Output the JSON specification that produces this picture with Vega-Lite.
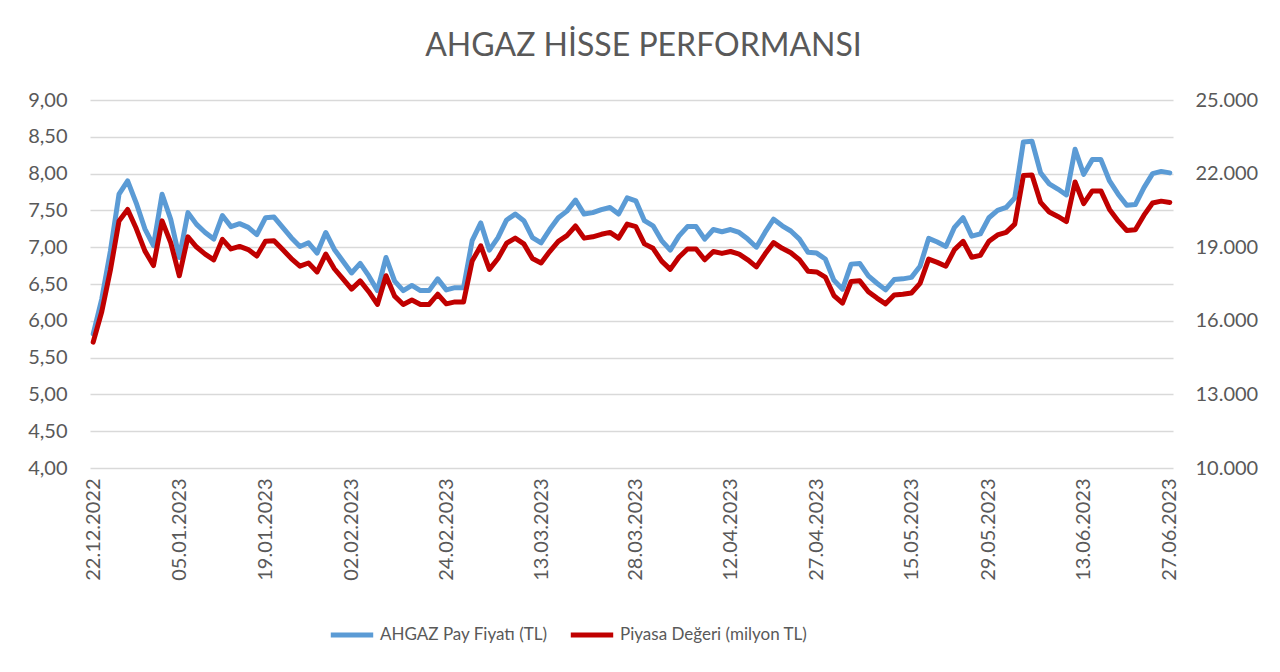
{
"$schema": "https://vega.github.io/schema/vega-lite/v6.json",
"width": 1083,
"height": 368,
"autosize": {"type": "none"},
"padding": {"left": 90, "top": 100, "right": 107, "bottom": 204},
"background": "white",
"title": {"text": "AHGAZ HİSSE PERFORMANSI", "font": "Lato", "fontSize": 32, "fontWeight": "normal", "color": "#595959", "anchor": "middle", "baseline": "alphabetic", "offset": 2, "dx": 12},
"config": {
  "view": {"stroke": null},
  "axis": {"labelFont": "Lato", "labelFontSize": 20, "labelColor": "#595959", "domain": false, "ticks": false, "title": null, "gridColor": "#d9d9d9", "gridWidth": 1.3}
},
"data": {"values": [
{"tarih":"22.12.2022","fiyat":5.82,"deger":15132},
{"tarih":"23.12.2022","fiyat":6.30,"deger":16380},
{"tarih":"26.12.2022","fiyat":6.95,"deger":18070},
{"tarih":"27.12.2022","fiyat":7.72,"deger":20072},
{"tarih":"28.12.2022","fiyat":7.90,"deger":20540},
{"tarih":"29.12.2022","fiyat":7.60,"deger":19760},
{"tarih":"30.12.2022","fiyat":7.25,"deger":18850},
{"tarih":"02.01.2023","fiyat":7.02,"deger":18252},
{"tarih":"03.01.2023","fiyat":7.72,"deger":20072},
{"tarih":"04.01.2023","fiyat":7.38,"deger":19188},
{"tarih":"05.01.2023","fiyat":6.86,"deger":17836},
{"tarih":"06.01.2023","fiyat":7.47,"deger":19422},
{"tarih":"09.01.2023","fiyat":7.31,"deger":19006},
{"tarih":"10.01.2023","fiyat":7.20,"deger":18720},
{"tarih":"11.01.2023","fiyat":7.11,"deger":18486},
{"tarih":"12.01.2023","fiyat":7.43,"deger":19318},
{"tarih":"13.01.2023","fiyat":7.28,"deger":18928},
{"tarih":"16.01.2023","fiyat":7.32,"deger":19032},
{"tarih":"17.01.2023","fiyat":7.27,"deger":18902},
{"tarih":"18.01.2023","fiyat":7.17,"deger":18642},
{"tarih":"19.01.2023","fiyat":7.40,"deger":19240},
{"tarih":"20.01.2023","fiyat":7.41,"deger":19266},
{"tarih":"23.01.2023","fiyat":7.27,"deger":18902},
{"tarih":"24.01.2023","fiyat":7.13,"deger":18538},
{"tarih":"25.01.2023","fiyat":7.01,"deger":18226},
{"tarih":"26.01.2023","fiyat":7.06,"deger":18356},
{"tarih":"27.01.2023","fiyat":6.92,"deger":17992},
{"tarih":"30.01.2023","fiyat":7.20,"deger":18720},
{"tarih":"31.01.2023","fiyat":6.97,"deger":18122},
{"tarih":"01.02.2023","fiyat":6.81,"deger":17706},
{"tarih":"02.02.2023","fiyat":6.65,"deger":17290},
{"tarih":"03.02.2023","fiyat":6.78,"deger":17628},
{"tarih":"06.02.2023","fiyat":6.61,"deger":17186},
{"tarih":"07.02.2023","fiyat":6.41,"deger":16666},
{"tarih":"15.02.2023","fiyat":6.86,"deger":17836},
{"tarih":"16.02.2023","fiyat":6.54,"deger":17004},
{"tarih":"17.02.2023","fiyat":6.41,"deger":16666},
{"tarih":"20.02.2023","fiyat":6.48,"deger":16848},
{"tarih":"21.02.2023","fiyat":6.41,"deger":16666},
{"tarih":"22.02.2023","fiyat":6.41,"deger":16666},
{"tarih":"23.02.2023","fiyat":6.57,"deger":17082},
{"tarih":"24.02.2023","fiyat":6.42,"deger":16692},
{"tarih":"27.02.2023","fiyat":6.45,"deger":16770},
{"tarih":"28.02.2023","fiyat":6.45,"deger":16770},
{"tarih":"01.03.2023","fiyat":7.09,"deger":18434},
{"tarih":"02.03.2023","fiyat":7.33,"deger":19058},
{"tarih":"03.03.2023","fiyat":6.96,"deger":18096},
{"tarih":"06.03.2023","fiyat":7.13,"deger":18538},
{"tarih":"07.03.2023","fiyat":7.37,"deger":19162},
{"tarih":"08.03.2023","fiyat":7.45,"deger":19370},
{"tarih":"09.03.2023","fiyat":7.36,"deger":19136},
{"tarih":"10.03.2023","fiyat":7.13,"deger":18538},
{"tarih":"13.03.2023","fiyat":7.06,"deger":18356},
{"tarih":"14.03.2023","fiyat":7.24,"deger":18824},
{"tarih":"15.03.2023","fiyat":7.40,"deger":19240},
{"tarih":"16.03.2023","fiyat":7.49,"deger":19474},
{"tarih":"17.03.2023","fiyat":7.64,"deger":19864},
{"tarih":"20.03.2023","fiyat":7.45,"deger":19370},
{"tarih":"21.03.2023","fiyat":7.47,"deger":19422},
{"tarih":"22.03.2023","fiyat":7.51,"deger":19526},
{"tarih":"23.03.2023","fiyat":7.54,"deger":19604},
{"tarih":"24.03.2023","fiyat":7.45,"deger":19370},
{"tarih":"27.03.2023","fiyat":7.67,"deger":19942},
{"tarih":"28.03.2023","fiyat":7.63,"deger":19838},
{"tarih":"29.03.2023","fiyat":7.36,"deger":19136},
{"tarih":"30.03.2023","fiyat":7.29,"deger":18954},
{"tarih":"31.03.2023","fiyat":7.09,"deger":18434},
{"tarih":"03.04.2023","fiyat":6.96,"deger":18096},
{"tarih":"04.04.2023","fiyat":7.15,"deger":18590},
{"tarih":"05.04.2023","fiyat":7.28,"deger":18928},
{"tarih":"06.04.2023","fiyat":7.28,"deger":18928},
{"tarih":"07.04.2023","fiyat":7.11,"deger":18486},
{"tarih":"10.04.2023","fiyat":7.24,"deger":18824},
{"tarih":"11.04.2023","fiyat":7.21,"deger":18746},
{"tarih":"12.04.2023","fiyat":7.24,"deger":18824},
{"tarih":"13.04.2023","fiyat":7.20,"deger":18720},
{"tarih":"14.04.2023","fiyat":7.11,"deger":18486},
{"tarih":"17.04.2023","fiyat":7.00,"deger":18200},
{"tarih":"18.04.2023","fiyat":7.20,"deger":18720},
{"tarih":"19.04.2023","fiyat":7.38,"deger":19188},
{"tarih":"20.04.2023","fiyat":7.29,"deger":18954},
{"tarih":"24.04.2023","fiyat":7.22,"deger":18772},
{"tarih":"25.04.2023","fiyat":7.11,"deger":18486},
{"tarih":"26.04.2023","fiyat":6.93,"deger":18018},
{"tarih":"27.04.2023","fiyat":6.92,"deger":17992},
{"tarih":"28.04.2023","fiyat":6.84,"deger":17784},
{"tarih":"02.05.2023","fiyat":6.55,"deger":17030},
{"tarih":"03.05.2023","fiyat":6.43,"deger":16718},
{"tarih":"04.05.2023","fiyat":6.77,"deger":17602},
{"tarih":"05.05.2023","fiyat":6.78,"deger":17628},
{"tarih":"08.05.2023","fiyat":6.61,"deger":17186},
{"tarih":"09.05.2023","fiyat":6.51,"deger":16926},
{"tarih":"10.05.2023","fiyat":6.42,"deger":16692},
{"tarih":"11.05.2023","fiyat":6.56,"deger":17056},
{"tarih":"12.05.2023","fiyat":6.57,"deger":17082},
{"tarih":"15.05.2023","fiyat":6.59,"deger":17134},
{"tarih":"16.05.2023","fiyat":6.74,"deger":17524},
{"tarih":"17.05.2023","fiyat":7.12,"deger":18512},
{"tarih":"18.05.2023","fiyat":7.07,"deger":18382},
{"tarih":"22.05.2023","fiyat":7.01,"deger":18226},
{"tarih":"23.05.2023","fiyat":7.27,"deger":18902},
{"tarih":"24.05.2023","fiyat":7.40,"deger":19240},
{"tarih":"25.05.2023","fiyat":7.15,"deger":18590},
{"tarih":"26.05.2023","fiyat":7.18,"deger":18668},
{"tarih":"29.05.2023","fiyat":7.40,"deger":19240},
{"tarih":"30.05.2023","fiyat":7.50,"deger":19500},
{"tarih":"31.05.2023","fiyat":7.54,"deger":19604},
{"tarih":"01.06.2023","fiyat":7.67,"deger":19942},
{"tarih":"02.06.2023","fiyat":8.43,"deger":21918},
{"tarih":"05.06.2023","fiyat":8.44,"deger":21944},
{"tarih":"06.06.2023","fiyat":8.01,"deger":20826},
{"tarih":"07.06.2023","fiyat":7.86,"deger":20436},
{"tarih":"08.06.2023","fiyat":7.79,"deger":20254},
{"tarih":"09.06.2023","fiyat":7.71,"deger":20046},
{"tarih":"12.06.2023","fiyat":8.33,"deger":21658},
{"tarih":"13.06.2023","fiyat":7.99,"deger":20774},
{"tarih":"14.06.2023","fiyat":8.19,"deger":21294},
{"tarih":"15.06.2023","fiyat":8.19,"deger":21294},
{"tarih":"16.06.2023","fiyat":7.90,"deger":20540},
{"tarih":"19.06.2023","fiyat":7.72,"deger":20072},
{"tarih":"20.06.2023","fiyat":7.57,"deger":19682},
{"tarih":"21.06.2023","fiyat":7.58,"deger":19708},
{"tarih":"22.06.2023","fiyat":7.81,"deger":20306},
{"tarih":"23.06.2023","fiyat":8.00,"deger":20800},
{"tarih":"26.06.2023","fiyat":8.03,"deger":20878},
{"tarih":"27.06.2023","fiyat":8.01,"deger":20826}
]},
"encoding": {
  "x": {"field": "tarih", "type": "ordinal", "sort": null, "scale": {"type": "point", "padding": 0.37},
    "axis": {"values": ["22.12.2022","05.01.2023","19.01.2023","02.02.2023","24.02.2023","13.03.2023","28.03.2023","12.04.2023","27.04.2023","15.05.2023","29.05.2023","13.06.2023","27.06.2023"], "labelAngle": -90, "labelPadding": 10, "grid": false}}
},
"layer": [
  {
    "mark": {"type": "line", "strokeWidth": 5, "strokeCap": "round", "strokeJoin": "round"},
    "encoding": {
      "y": {"field": "fiyat", "type": "quantitative", "scale": {"domain": [4, 9], "nice": false, "zero": false},
        "axis": {"orient": "left", "values": [4,4.5,5,5.5,6,6.5,7,7.5,8,8.5,9], "grid": true, "labelPadding": 23, "labelExpr": "replace(format(datum.value, '.2f'), '.', ',')"}},
      "color": {"datum": "AHGAZ Pay Fiyatı (TL)", "type": "nominal",
        "scale": {"domain": ["AHGAZ Pay Fiyatı (TL)", "Piyasa Değeri (milyon TL)"], "range": ["#5B9BD5", "#C00000"]},
        "legend": {"orient": "none", "legendX": 238, "legendY": 511, "direction": "horizontal", "title": null, "symbolType": "stroke", "symbolStrokeWidth": 5, "symbolSize": 1800, "labelFont": "Lato", "labelFontSize": 17, "labelLimit": 400, "labelColor": "#595959", "labelOffset": 4, "columnPadding": 12}}
    }
  },
  {
    "mark": {"type": "line", "strokeWidth": 5, "strokeCap": "round", "strokeJoin": "round"},
    "encoding": {
      "y": {"field": "deger", "type": "quantitative", "scale": {"domain": [10000, 25000], "nice": false, "zero": false},
        "axis": {"orient": "right", "values": [10000,13000,16000,19000,22000,25000], "grid": false, "labelPadding": 22, "labelExpr": "replace(format(datum.value, ','), ',', '.')"}},
      "color": {"datum": "Piyasa Değeri (milyon TL)", "type": "nominal"}
    }
  }
],
"resolve": {"scale": {"y": "independent"}, "axis": {"y": "independent"}}
}
